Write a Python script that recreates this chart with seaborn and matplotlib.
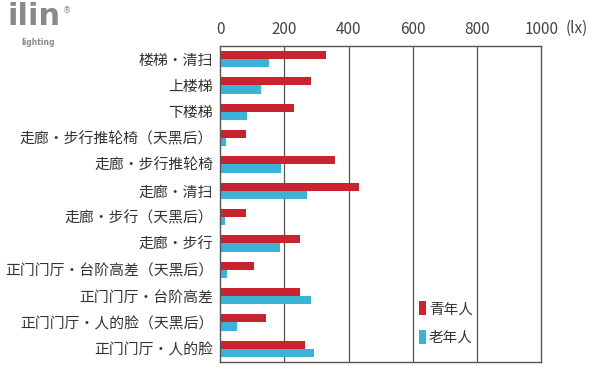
import matplotlib
matplotlib.use("Agg")
import matplotlib.pyplot as plt
import seaborn as sns
import pandas as pd

categories = [
    "楼梯・清扫", "上楼梯", "下楼梯", "走廊・步行推轮椅（天黑后）", "走廊・步行推轮椅",
    "走廊・清扫", "走廊・步行（天黑后）", "走廊・步行", "正门门厅・台阶高差（天黑后）",
    "正门门厅・台阶高差", "正门门厅・人的脸（天黑后）", "正门门厅・人的脸",
]
young = [329, 282, 229, 81, 357, 431, 81, 249, 106, 250, 143, 265]
old = [152, 127, 84, 19, 189, 270, 16, 185, 21, 282, 53, 291]
series = ["青年人", "老年人"]
xticks = [0, 200, 400, 600, 800, 1000]

df = pd.DataFrame({
    "cat": categories * 2,
    "val": young + old,
    "grp": [series[0]] * len(categories) + [series[1]] * len(categories),
})

sns.set_theme(style="white")
plt.rcParams['font.family'] = ['Noto Sans CJK SC', 'DejaVu Sans']

fig = plt.figure(figsize=(6, 3.83), dpi=100)
ax = fig.add_axes([0.367, 0.055, 0.535, 0.825])
sns.barplot(data=df, y="cat", x="val", hue="grp", orient="h",
            palette=["#c8232e", "#3ab3d6"], width=0.62, ax=ax,
            saturation=1, linewidth=0, legend=True)
ax.set_xlim(0, 1000)
ax.set_xticks(xticks)
ax.xaxis.tick_top()
ax.tick_params(axis='x', length=0, labelsize=11, labelcolor="#444", pad=6)
ax.tick_params(axis='y', length=0, labelsize=10.7, labelcolor="#333", pad=5)
ax.set_xlabel("")
ax.set_ylabel("")
for x in xticks[1:-1]:
    ax.axvline(x, color="#555", lw=0.9, zorder=0)
for s in ax.spines.values():
    s.set_color("#555")
    s.set_linewidth(1.0)

fig.text(0.962, 0.925, "(lx)", fontsize=11, color="#444", va="center", ha="center")

leg = ax.legend(loc="lower left", bbox_to_anchor=(0.6, 0.035), frameon=False,
                fontsize=10.5, handlelength=0.5, handleheight=1.1, handletextpad=0.2,
                labelspacing=0.95, borderaxespad=0)
for t in leg.get_texts():
    t.set_color("#333")

fig.text(0.012, 0.995, "ilin", fontsize=22, fontweight="bold", color="#8a8a8a",
         family="DejaVu Sans", va="top")
fig.text(0.035, 0.9, "lighting", fontsize=5.5, fontweight="bold", color="#8a8a8a",
         family="DejaVu Sans", va="top")
fig.text(0.105, 0.985, "®", fontsize=6, color="#8a8a8a", family="DejaVu Sans", va="top")

fig.savefig("out.png", dpi=100)
